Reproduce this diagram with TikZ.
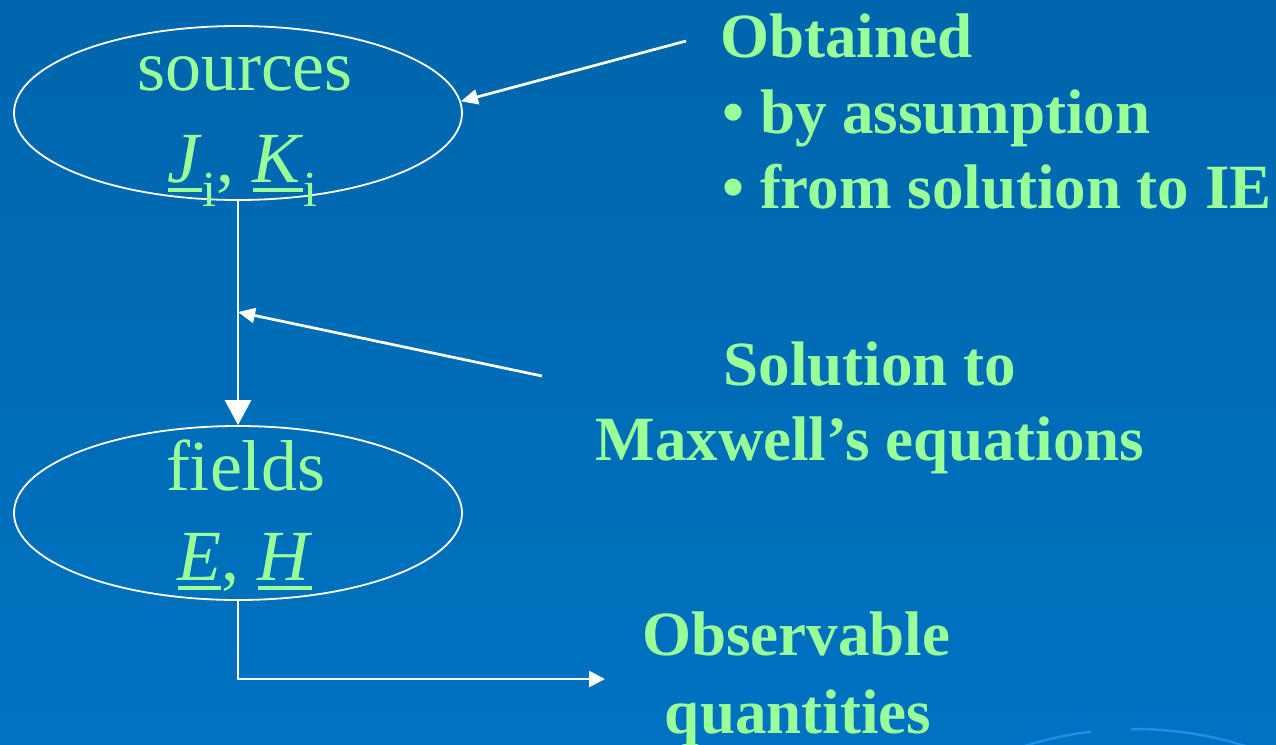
\documentclass[tikz,border=0pt]{standalone}
\usepackage{fontspec}
\setmainfont{Liberation Serif}
\usetikzlibrary{shapes.geometric,arrows.meta}
\definecolor{bgtop}{HTML}{0066AD}
\definecolor{bgbot}{HTML}{0072C1}
\definecolor{txt}{HTML}{99FF99}
\definecolor{deco}{HTML}{1C8FE6}
\newcommand{\ulvec}[1]{\setbox0\hbox{#1}\rlap{\hspace{0.5pt}\rule[-9.5pt]{\dimexpr\wd0-1pt\relax}{4pt}}\box0}
\begin{document}
\begin{tikzpicture}[x=1pt,y=-1pt,
  oval/.style={draw=white,line width=1.8pt,ellipse,minimum width=448pt,minimum height=174pt,inner sep=0pt},
  big/.style={text=txt,inner sep=0pt,anchor=base,font=\fontsize{72}{80}\selectfont},
  note/.style={text=txt,inner sep=0pt,font=\fontsize{63}{75}\selectfont\bfseries},
  conn/.style={draw=white,line width=2.7pt},
  decoarc/.style={draw=deco,line width=2.5pt},
]
\useasboundingbox (0,0) rectangle (1276,744);
\shade[top color=bgtop,bottom color=bgbot] (0,0) rectangle (1276,744);

% decoration bottom right
\draw[decoarc] (1135,1096) ++(-110:367) arc[start angle=-110,end angle=-96.9,radius=367];
\draw[decoarc] (1135,1096) ++(-90.6:367) arc[start angle=-90.6,end angle=-70,radius=367];

% ellipses
\node[oval] (src) at (238,113) {};
\node[oval] (fld) at (238,513) {};

% ellipse texts
\node[big] (srcA) at (245,90) {sources};
\node[big] (srcB) at (243,182) {\ulvec{\textit{J}}\textsubscript{i}, \ulvec{\textit{K}}\textsubscript{i}};
\node[big] (fldA) at (246,490) {fields};
\node[big] (fldB) at (245,580) {\ulvec{\textit{E}}, \ulvec{\textit{H}}};

% notes
\node[note,anchor=base west] (ob1) at (720,57) {Obtained};
\node[note,anchor=base west] (ob2) at (722,133) {• by assumption};
\node[note,anchor=base west] (ob3) at (722,208) {• from solution to IE};
\node[note,anchor=base] (sol1) at (870,385) {Solution to};
\node[note,anchor=base] (sol2) at (870,460) {Maxwell’s equations};
\node[note,anchor=base] (obs1) at (796,655) {Observable};
\node[note,anchor=base] (obs2) at (798,733) {quantities};

% connectors
\coordinate (o1) at (686,41);
\draw[conn,-{Triangle[length=17pt,width=15pt]}] (o1) -- (src.3);
\coordinate (o2) at (542,376);
\coordinate (m) at (238,312);
\draw[conn,-{Triangle[length=17pt,width=15pt]}] (o2) -- (m);
\draw[conn,-{Triangle[length=25pt,width=26pt]}] (src.south) -- (fld.north);
\coordinate (o4) at (605,679);
\draw[conn,-{Triangle[length=16pt,width=16pt]}] (fld.south) |- (o4);
\end{tikzpicture}
\end{document}
